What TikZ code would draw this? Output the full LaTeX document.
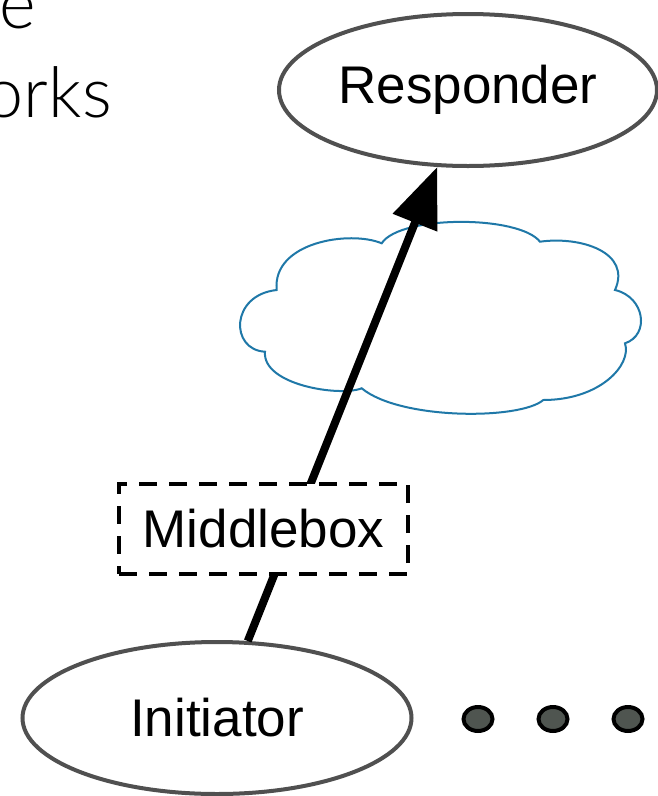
\documentclass[tikz,border=0pt]{standalone}
\usepackage{fontspec}
\setmainfont{Liberation Sans}
\newfontfamily\gillfont{Lato Light}
\usetikzlibrary{shapes.geometric,arrows.meta}
\definecolor{ovalgray}{HTML}{505050}
\definecolor{cloudblue}{HTML}{1F78A8}
\definecolor{dotfill}{HTML}{4F5550}
\begin{document}
\begin{tikzpicture}[x=1pt,y=-1pt,
  oval/.style={ellipse, draw=ovalgray, line width=4pt, fill=white, inner sep=0pt,
    font=\fontsize{53}{60}\selectfont},
  mbox/.style={rectangle, draw=black, line width=4pt, dash pattern=on 18pt off 12pt,
    fill=white, inner sep=0pt, minimum width=289pt, minimum height=90pt,
    font=\fontsize{53}{60}\selectfont},
  flow/.style={line width=8pt, -{Triangle[length=60pt,width=46pt]}},
  dotnode/.style={ellipse, draw=black, line width=4pt, fill=dotfill, inner sep=0pt,
    minimum width=29pt, minimum height=24pt},
  slidetext/.style={inner sep=0pt, font=\gillfont\fontsize{70}{84}\selectfont},
  cloudline/.style={draw=cloudblue, line width=2pt, fill=white}]
\useasboundingbox (0,0) rectangle (658,796);
\clip (0,0) rectangle (658,796);
\fill[white] (0,0) rectangle (658,796);

% partial slide text
\node[slidetext, anchor=base east] (t1) at (36,28) {e};
\node[slidetext, anchor=base east] (t2) at (112,117) {orks};

% cloud
\path[cloudline]
  (381.7,243.3) .. controls (400,215) and (519,215) .. (540,241.7)
  .. controls (580,236) and (632,252) .. (615,290)
  .. controls (645,297) and (650,335) .. (625,343.3)
  .. controls (632,365) and (600,400) .. (543.3,400)
  .. controls (520,420) and (400,420) .. (361.7,388.3)
  .. controls (340,397) and (262,385) .. (265,351.7)
  .. controls (230,350) and (230,295) .. (276.7,290)
  .. controls (272,242) and (350,230) .. cycle;

% nodes
\node[oval, minimum width=378pt, minimum height=152pt] (resp) at (468,90) {Responder};
\node[oval, minimum width=389pt, minimum height=152pt] (init) at (217,718) {Initiator};

% connector
\draw[flow] (init) -- (resp);

% middlebox on top of the connector
\node[mbox] (mb) at (263.5,529) {Middlebox};

% dots
\node[dotnode] (d1) at (478,719) {};
\node[dotnode] (d2) at (553,719) {};
\node[dotnode] (d3) at (628,719) {};
\end{tikzpicture}
\end{document}
